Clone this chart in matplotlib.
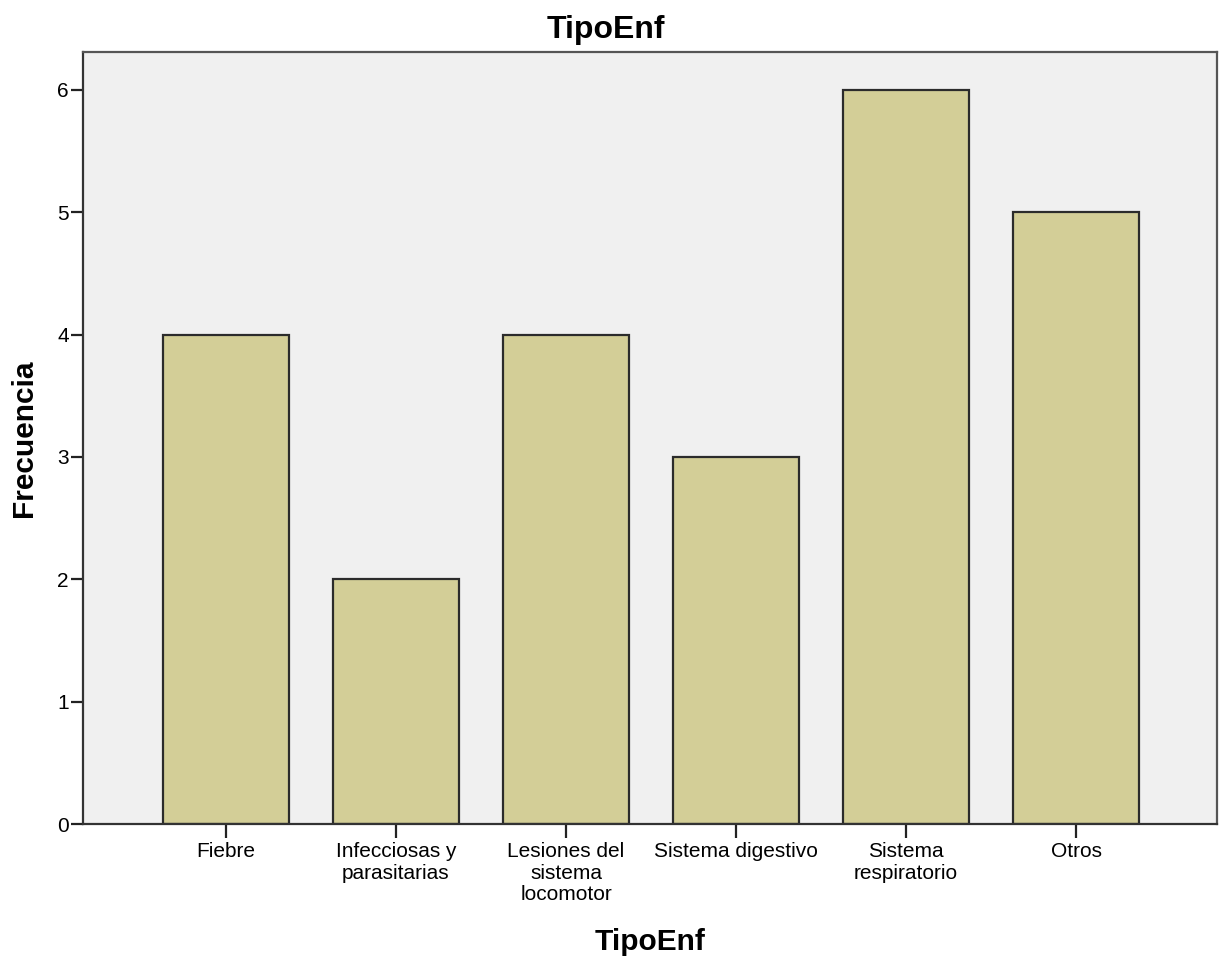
import matplotlib
matplotlib.use("Agg")
import matplotlib.pyplot as plt

categories = ["Fiebre", "Infecciosas y\nparasitarias", "Lesiones del\nsistema\nlocomotor",
              "Sistema digestivo", "Sistema\nrespiratorio", "Otros"]
frecuencia = [4, 2, 4, 3, 6, 5]
y_ticks = [0, 1, 2, 3, 4, 5, 6]

plt.rcParams['font.family'] = ['Liberation Sans', 'DejaVu Sans']

fig = plt.figure(figsize=(12.25, 9.59), dpi=100)
ax = fig.add_axes([83/1225, (959-824)/959, (1217-83)/1225, (824-52)/959])
ax.set_facecolor('#F0F0F0')

x = list(range(len(categories)))
ax.bar(x, frecuencia, width=0.745, color='#D3CE97', edgecolor='#2b2b2b', linewidth=1.6, zorder=2)

ax.set_xlim(-0.841, 5.829)
ax.set_ylim(0, 6.31)
ax.set_yticks(y_ticks)
ax.set_xticks(x)
ax.set_xticklabels(categories, fontsize=15, linespacing=1.17, va='top')
ax.tick_params(axis='y', labelsize=15, length=8.6, width=1.6, color='#222222', pad=1.5)
ax.tick_params(axis='x', length=10, width=1.6, color='#222222', pad=3)

for side in ['left', 'bottom']:
    ax.spines[side].set_color('#333333')
    ax.spines[side].set_linewidth(1.6)
for side in ['top', 'right']:
    ax.spines[side].set_color('#555555')
    ax.spines[side].set_linewidth(1.6)

ax.set_ylabel('Frecuencia', fontsize=21.5, fontweight='bold', labelpad=14)
ax.set_xlabel('TipoEnf', fontsize=21.5, fontweight='bold', labelpad=17)
fig.text(606/1225, 1 - 30/959, 'TipoEnf', fontsize=23, fontweight='bold',
         ha='center', va='center')

fig.savefig('out.png', dpi=100)
